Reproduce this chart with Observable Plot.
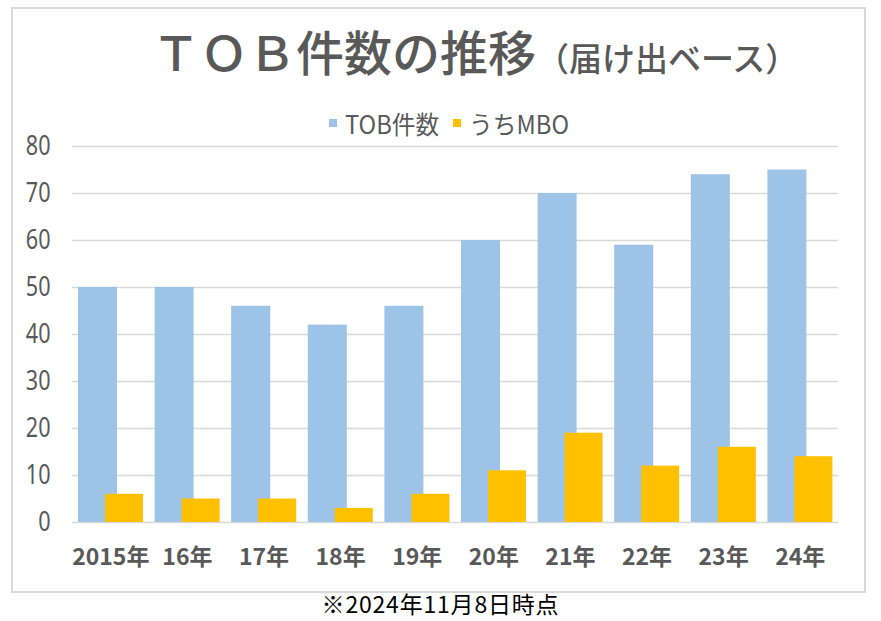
<!DOCTYPE html>
<html><head><meta charset="utf-8">
<script src="https://cdn.jsdelivr.net/npm/d3@7"></script>
<script src="https://cdn.jsdelivr.net/npm/@observablehq/plot@0.6"></script>
<style>
body{margin:0;background:#fff;width:881px;height:621px;position:relative;overflow:hidden;font-family:"Noto Sans CJK JP",sans-serif;}
#frame{position:absolute;left:11px;top:7px;width:855px;height:586px;border:2px solid #d9d9d9;box-sizing:border-box;}
#title{position:absolute;left:152px;top:22px;white-space:nowrap;color:#595959;font-size:48px;line-height:1.2;font-weight:500;}
#title .sub{font-size:33px;}
.leg{position:absolute;top:108px;height:30px;display:flex;align-items:center;color:#595959;font-size:25px;line-height:1;white-space:nowrap;font-family:"Noto Sans CJK JP",sans-serif;}
.leg .sw{display:inline-block;width:8px;height:8px;margin-right:8px;}
.leg .tx{display:inline-block;transform:scaleX(0.95);transform-origin:left center;}
#chart{position:absolute;left:0;top:120px;}
#caption{position:absolute;left:0;width:881px;top:592px;line-height:1;text-align:center;font-size:23px;letter-spacing:0.8px;color:#000;font-family:"Noto Sans CJK JP",sans-serif;}
</style></head>
<body>
<div id="frame"></div>
<div id="title">ＴＯＢ件数の推移<span class="sub">（届け出ベース）</span></div>
<div id="legendWrap"></div>
<div id="chart"></div>
<div id="caption">※2024年11月8日時点</div>
<script>
const years = ["2015年","16年","17年","18年","19年","20年","21年","22年","23年","24年"];
const tobCounts = [50,50,46,42,46,60,70,59,74,75];
const mboCounts = [6,5,5,3,6,11,19,12,16,14];
const seriesNames = ["TOB件数","うちMBO"];
const seriesColors = ["#9DC3E6","#FFC000"];
const yTicks = [0,10,20,30,40,50,60,70,80];

const rows = years.map((y,i)=>({year:y, tob:tobCounts[i], mbo:mboCounts[i]}));

const legendLeft = [329, 453];
const wrap = document.getElementById("legendWrap");
seriesNames.forEach((n,i)=>{
  const it = document.createElement("div"); it.className="leg"; it.style.left = legendLeft[i]+"px";
  const sw = document.createElement("span"); sw.className="sw"; sw.style.background=seriesColors[i];
  const tx = document.createElement("span"); tx.className="tx"; tx.textContent = n;
  it.appendChild(sw); it.appendChild(tx);
  wrap.appendChild(it);
});

const chart = Plot.plot({
  width: 881, height: 455,
  marginLeft: 72, marginRight: 43, marginTop: 26, marginBottom: 53,
  x: {domain: years, padding: 0, round: false, label: null},
  y: {domain: [0,80], label: null},
  marks: [
    Plot.gridY(yTicks, {stroke:"#d9d9d9", strokeOpacity:1, strokeWidth:1.5}),
    Plot.barY(rows, {x:"year", y:"tob", fill:seriesColors[0], insetLeft:6, insetRight:31.6}),
    Plot.barY(rows, {x:"year", y:"mbo", fill:seriesColors[1], insetLeft:33, insetRight:5.6}),
    Plot.axisY(yTicks, {tickSize:0, tickPadding:22, fontSize:27, fill:"#595959",
      fontFamily:'"Noto Sans",sans-serif', className:"ylab"}),
    Plot.axisX({tickSize:0, tickPadding:26, fontSize:23, fontWeight:"bold", fill:"#595959",
      fontFamily:'"Noto Sans CJK JP",sans-serif'})
  ]
});
// condense y tick labels horizontally (style only)
const ySet = new Set(yTicks.map(String));
chart.querySelectorAll('text').forEach(t=>{
  if (!ySet.has(t.textContent.trim())) return;
  if (t.getAttribute("text-anchor") !== "end" && t.closest('[text-anchor="end"]') == null) return;
  const tr = t.getAttribute("transform") || "";
  t.setAttribute("transform", tr + " scale(0.8,1)");
});
document.getElementById("chart").appendChild(chart);
</script>
</body></html>
